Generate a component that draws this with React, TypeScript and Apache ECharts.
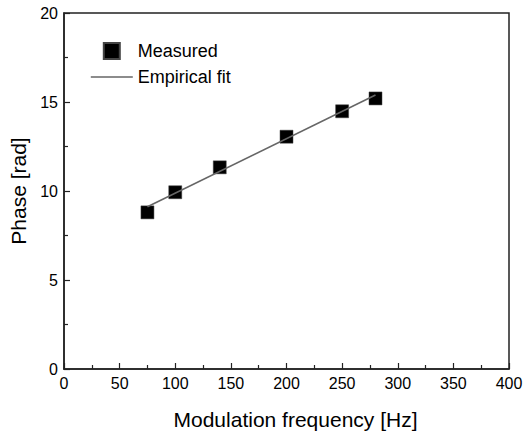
import React, { useEffect, useRef } from "react";
import * as echarts from "echarts";

const measuredFreq = [75, 100, 140, 200, 250, 280];
const measuredPhase = [8.8, 9.93, 11.33, 13.05, 14.48, 15.2];
const fitFreq = [75, 280];
const fitPhase = [9.12, 15.39];
const xTicks = [0, 50, 100, 150, 200, 250, 300, 350, 400];
const yTicks = [0, 5, 10, 15, 20];

const FONT = "Liberation Sans, Arial, sans-serif";

export default function App() {
  const ref = useRef<HTMLDivElement>(null);
  useEffect(() => {
    if (!ref.current) return;
    const chart = echarts.init(ref.current, undefined, { renderer: "svg" });
    chart.setOption({
      animation: false,
      backgroundColor: "#fff",
      grid: {
        left: 64,
        top: 13,
        width: 445,
        height: 356,
        show: true,
        borderColor: "#222",
        borderWidth: 1.5,
        backgroundColor: "transparent",
      },
      legend: {
        orient: "vertical",
        left: 85,
        top: 37,
        padding: 5,
        itemWidth: 42,
        itemHeight: 16,
        itemGap: 8,
        textStyle: { fontFamily: FONT, fontSize: 18, color: "#000" },
        data: [
          { name: "Measured", icon: "path://M0,0L10,0L10,10L0,10Z", itemStyle: { color: "#000", opacity: 1 } },
          { name: "Empirical fit", itemStyle: { opacity: 0 }, lineStyle: { color: "#666", width: 1.6 } },
        ],
      },
      xAxis: {
        type: "value",
        min: xTicks[0],
        max: xTicks[xTicks.length - 1],
        interval: 50,
        name: "Modulation frequency [Hz]",
        nameLocation: "middle",
        nameGap: 40,
        nameTextStyle: { fontFamily: FONT, fontSize: 21, color: "#000", padding: [0, 0, 0, 18] },
        axisLine: { lineStyle: { color: "#222", width: 1.5 } },
        axisTick: { inside: true, length: 6, lineStyle: { color: "#222", width: 1.2 } },
        minorTick: { show: true, splitNumber: 2, length: 4, lineStyle: { color: "#222", width: 1.2 } },
        splitLine: { show: false },
        axisLabel: { fontFamily: FONT, fontSize: 16, color: "#000", margin: 6 },
      },
      yAxis: {
        type: "value",
        min: yTicks[0],
        max: yTicks[yTicks.length - 1],
        interval: 5,
        name: "Phase [rad]",
        nameLocation: "middle",
        nameGap: 32,
        nameTextStyle: { fontFamily: FONT, fontSize: 21, color: "#000" },
        axisLine: { lineStyle: { color: "#222", width: 1.5 } },
        axisTick: { inside: true, length: 6, lineStyle: { color: "#222", width: 1.2 } },
        minorTick: { show: true, splitNumber: 2, length: 4, lineStyle: { color: "#222", width: 1.2 } },
        splitLine: { show: false },
        axisLabel: { fontFamily: FONT, fontSize: 16, color: "#000", margin: 6 },
      },
      series: [
        {
          name: "Measured",
          type: "scatter",
          symbol: "rect",
          symbolSize: 13,
          itemStyle: { color: "#000", opacity: 1, borderColor: "#444", borderWidth: 0.5 },
          data: measuredFreq.map((x, i) => [x, measuredPhase[i]]),
          z: 3,
        },
        {
          name: "Empirical fit",
          type: "line",
          symbol: "none",
          itemStyle: { color: "#666" },
          lineStyle: { color: "#666", width: 1.6 },
          data: fitFreq.map((x, i) => [x, fitPhase[i]]),
          z: 4,
        },
      ],
    });
    return () => chart.dispose();
  }, []);
  return <div ref={ref} style={{ width: 529, height: 437, position: "absolute", left: 0, top: 0 }} />;
}
